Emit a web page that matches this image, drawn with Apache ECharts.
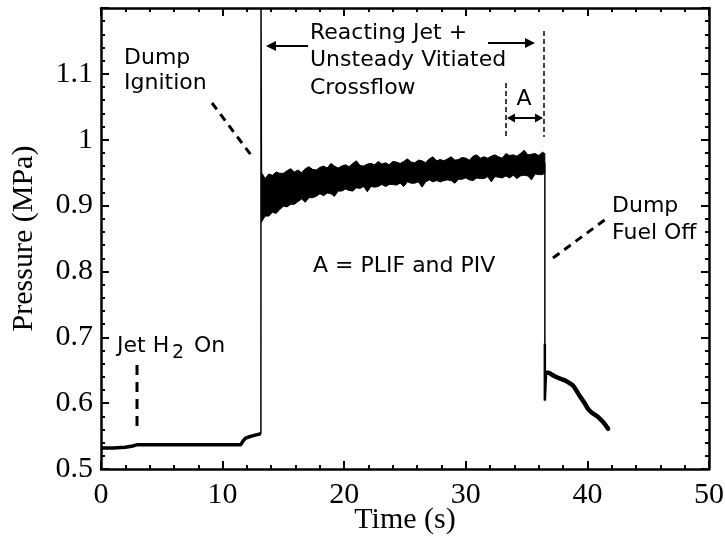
<!DOCTYPE html>
<html>
<head>
<meta charset="utf-8">
<script src="https://cdn.jsdelivr.net/npm/echarts@6/dist/echarts.min.js"></script>
<style>html,body{margin:0;padding:0;background:#fff;}#c{width:725px;height:544px;}</style>
</head>
<body>
<div id="c"></div>
<script>
// ---- data ----
const xTickLabels = ['0','10','20','30','40','50'];
const yTickLabels = ['0.5','0.6','0.7','0.8','0.9','1','1.1',''];

// before dump ignition (jet H2 on at ~3 s)
const preTime     = [0, 1.0, 2.0, 2.6, 3.0, 4.0, 6.0, 8.0, 10.0, 11.5, 11.7, 11.9, 12.2, 12.6, 13.0, 13.15];
const prePressure = [0.532, 0.532, 0.533, 0.535, 0.537, 0.537, 0.537, 0.537, 0.537, 0.537, 0.543, 0.547, 0.549, 0.551, 0.553, 0.553];

// ignition spike
const spikeTime     = [13.15, 13.16, 13.2];
const spikePressure = [0.553, 1.2, 0.90];

// reacting jet + unsteady vitiated crossflow: oscillation envelope
const bandTime = [13.2,13.5,13.8,14.1,14.4,14.7,15.0,15.3,15.6,15.9,16.2,16.5,16.8,17.1,17.4,17.7,18.0,18.3,18.6,18.9,19.2,19.5,19.8,20.1,20.4,20.7,21.0,21.3,21.6,21.9,22.2,22.5,22.8,23.1,23.4,23.7,24.0,24.3,24.6,24.9,25.2,25.5,25.8,26.1,26.4,26.7,27.0,27.3,27.6,27.9,28.2,28.5,28.8,29.1,29.4,29.7,30.0,30.3,30.6,30.9,31.2,31.5,31.8,32.1,32.4,32.7,33.0,33.3,33.6,33.9,34.2,34.5,34.8,35.1,35.4,35.7,36.0,36.3,36.5];
const bandUpper = [0.950,0.941,0.948,0.946,0.951,0.949,0.949,0.953,0.956,0.951,0.954,0.950,0.956,0.959,0.955,0.954,0.958,0.960,0.957,0.964,0.960,0.957,0.960,0.962,0.959,0.964,0.968,0.961,0.960,0.963,0.964,0.962,0.967,0.963,0.965,0.962,0.967,0.966,0.964,0.967,0.971,0.966,0.965,0.969,0.968,0.965,0.971,0.974,0.968,0.970,0.968,0.971,0.974,0.969,0.970,0.973,0.972,0.969,0.975,0.977,0.972,0.974,0.972,0.975,0.977,0.974,0.972,0.979,0.976,0.977,0.975,0.979,0.984,0.977,0.978,0.979,0.976,0.981,0.979];
const bandLower = [0.875,0.884,0.884,0.890,0.888,0.894,0.899,0.898,0.902,0.902,0.906,0.910,0.905,0.912,0.912,0.914,0.918,0.915,0.919,0.918,0.914,0.922,0.922,0.925,0.923,0.922,0.927,0.926,0.929,0.921,0.929,0.928,0.929,0.932,0.929,0.932,0.932,0.931,0.934,0.929,0.936,0.934,0.934,0.936,0.928,0.936,0.939,0.936,0.938,0.936,0.938,0.939,0.938,0.934,0.940,0.940,0.942,0.939,0.938,0.942,0.941,0.941,0.944,0.936,0.944,0.943,0.942,0.945,0.942,0.946,0.941,0.945,0.946,0.945,0.939,0.948,0.947,0.947,0.949];

// dump fuel off drop
const dropTime     = [36.5, 36.5];
const dropPressure = [0.965, 0.604];
const dropThickTime     = [36.5, 36.5, 36.6];
const dropThickPressure = [0.690, 0.604, 0.646];

// after dump fuel off
const postTime     = [36.6, 36.8, 37.1, 37.4, 37.8, 38.1, 38.4, 38.8, 39.1, 39.4, 39.7, 40.1, 40.4, 40.8, 41.1, 41.4, 41.7];
const postPressure = [0.646, 0.646, 0.643, 0.640, 0.637, 0.635, 0.632, 0.627, 0.619, 0.610, 0.602, 0.590, 0.585, 0.580, 0.575, 0.569, 0.561];

const pairs = (xs, ys) => xs.map((x, i) => [x, ys[i]]);

const chart = echarts.init(document.getElementById('c'), null, {renderer: 'canvas'});

const serif = '"Liberation Serif", "Times New Roman", serif';
const sans = '"DejaVu Sans", Verdana, sans-serif';
const axisBase = {
  axisLine: {show: true, onZero: false, lineStyle: {color: '#000', width: 2.5}},
  axisTick: {show: true, inside: true, length: 8, lineStyle: {color: '#000', width: 2}},
  minorTick: {show: true, splitNumber: 5, length: 4, lineStyle: {color: '#000', width: 2}},
  splitLine: {show: false}
};

const xCommon = Object.assign({}, axisBase, {type: 'value', min: 0, max: 50, interval: 10});
const yCommon = Object.assign({}, axisBase, {type: 'value', min: 0.5, max: 1.2, interval: 0.1});

const option = {
  animation: false,
  backgroundColor: '#fff',
  grid: {left: 101, top: 8, width: 608, height: 461, containLabel: false, outerBoundsMode: 'none'},
  xAxis: [
    Object.assign({}, xCommon, {
      position: 'bottom',
      name: 'Time (s)', nameLocation: 'middle', nameGap: 36, nameMoveOverlap: false,
      nameTextStyle: {fontFamily: serif, fontSize: 30, color: '#000'},
      axisLabel: {show: true, margin: 11, fontFamily: serif, fontSize: 30, color: '#000',
        formatter: (v, i) => xTickLabels[i]}
    }),
    Object.assign({}, xCommon, {position: 'top', axisLabel: {show: false}})
  ],
  yAxis: [
    Object.assign({}, yCommon, {
      position: 'left',
      name: 'Pressure (MPa)', nameLocation: 'middle', nameGap: 62, nameMoveOverlap: false,
      nameTextStyle: {fontFamily: serif, fontSize: 30, color: '#000'},
      axisLabel: {show: true, margin: 8, fontFamily: serif, fontSize: 30, color: '#000',
        showMaxLabel: false, formatter: (v, i) => yTickLabels[i]}
    }),
    Object.assign({}, yCommon, {position: 'right', axisLabel: {show: false}})
  ],
  series: [
    {type: 'line', data: pairs(preTime, prePressure), showSymbol: false, symbol: 'none',
      lineStyle: {color: '#000', width: 3.5}, z: 3},
    {type: 'line', data: pairs(spikeTime, spikePressure), showSymbol: false, symbol: 'none',
      lineStyle: {color: '#000', width: 1.5}, z: 3},
    {type: 'custom', data: bandTime.map((t, i) => [t, bandLower[i], bandUpper[i]]),
      encode: {x: 0, y: [1, 2]}, z: 3,
      renderItem: function (params, api) {
        if (params.dataIndex !== 0) return null;
        const pts = [];
        for (let i = 0; i < bandTime.length; i++) pts.push(api.coord([bandTime[i], bandUpper[i]]));
        for (let i = bandTime.length - 1; i >= 0; i--) pts.push(api.coord([bandTime[i], bandLower[i]]));
        return {type: 'polygon', shape: {points: pts}, style: {fill: '#000', stroke: '#000', lineWidth: 1}};
      }},
    {type: 'line', data: pairs(dropTime, dropPressure), showSymbol: false, symbol: 'none',
      lineStyle: {color: '#000', width: 1.5}, z: 3},
    {type: 'line', data: pairs(dropThickTime, dropThickPressure), showSymbol: false, symbol: 'none',
      lineStyle: {color: '#000', width: 2.5}, z: 3},
    {type: 'line', data: pairs(postTime, postPressure), showSymbol: false, symbol: 'none', smooth: 0.3,
      lineStyle: {color: '#000', width: 4.5, cap: 'round', join: 'round'}, z: 3}
  ]
};

// ---- annotations ----
function txt(x, y, s, size, align) {
  return {type: 'text', x: x, y: y, z: 10,
    style: {text: s, fill: '#000', font: (size || 22) + 'px ' + sans, textAlign: align || 'left', textVerticalAlign: 'middle'}};
}
function seg(x1, y1, x2, y2, w, dash) {
  return {type: 'line', z: 10, shape: {x1: x1, y1: y1, x2: x2, y2: y2},
    style: {stroke: '#000', lineWidth: w, lineDash: dash || null}};
}
function head(xTip, y, dir, len, half) {
  return {type: 'polygon', z: 10, shape: {points: [[xTip, y], [xTip - dir * len, y - half], [xTip - dir * len, y + half]]},
    style: {fill: '#000'}};
}
option.graphic = [
  txt(124, 58, 'Dump'), txt(124, 83, 'Ignition'),
  seg(212, 103, 251, 155, 3, [8, 6]),
  txt(310, 33, 'Reacting Jet +'), txt(310, 60, 'Unsteady Vitiated'), txt(310, 88, 'Crossflow'),
  seg(308, 46, 274, 46, 2), head(266, 46, -1, 10, 5),
  seg(488, 43, 527, 43, 2), head(535, 43, 1, 10, 5),
  seg(544, 31, 544, 137, 1.5, [5, 3]),
  seg(506, 83, 506, 137, 1.5, [5, 3]),
  seg(514, 118, 536, 118, 2), head(507, 118, -1, 8, 4.5), head(543, 118, 1, 8, 4.5),
  txt(524, 99, 'A', 22, 'center'),
  txt(313, 266, 'A = PLIF and PIV'),
  txt(612, 206, 'Dump'), txt(612, 233, 'Fuel Off'),
  seg(553, 258, 606, 219, 3, [8, 6]),
  txt(117, 346, 'Jet H'), txt(172, 353, '2', 19), txt(194, 346, 'On'),
  seg(137, 365, 137, 432, 3, [10, 7])
];

chart.setOption(option);
</script>
</body>
</html>
